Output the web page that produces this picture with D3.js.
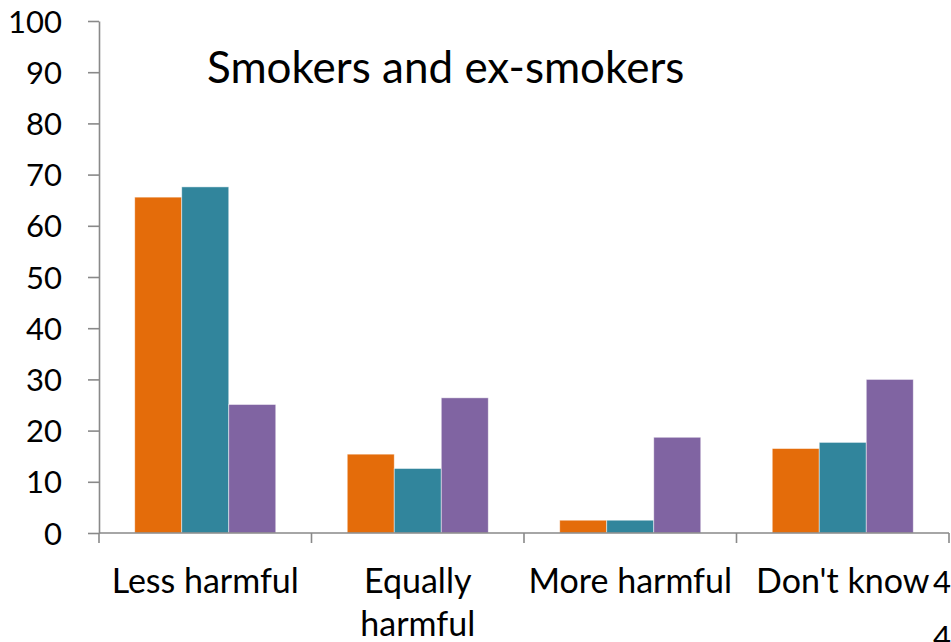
<!DOCTYPE html>
<html>
<head>
<meta charset="utf-8">
<script src="https://cdn.jsdelivr.net/npm/d3@7/dist/d3.min.js"></script>
<style>
  html, body { margin: 0; padding: 0; background: #fff; }
  svg { display: block; }
  text { font-family: Lato, "Open Sans", sans-serif; fill: #000; }
</style>
</head>
<body>
<svg id="chart" width="951" height="642"></svg>
<script>
// Survey responses (%) by perceived harm category
const categories = ["Less harmful", "Equally harmful", "More harmful", "Don't know"];
const seriesNames = ["Series A", "Series B", "Series C"];
const seriesA = [65.6, 15.4, 2.5, 16.5];
const seriesB = [67.6, 12.6, 2.5, 17.7];
const seriesC = [25.1, 26.4, 18.7, 30.0];
const yTicks = [0, 10, 20, 30, 40, 50, 60, 70, 80, 90, 100];
const colors = ["#E46C0A", "#31859C", "#8064A2"];

const svg = d3.select("#chart");
const margin = { left: 99, right: 2, top: 21, bottom: 109 };
const width = 951, height = 642;
const x0 = margin.left, x1 = width - margin.right;
const yBottom = height - margin.bottom;

const x = d3.scaleBand().domain(categories).range([x0, x1]).paddingInner(0).paddingOuter(0);
const xs = d3.scaleBand().domain(seriesNames).range([0, x.bandwidth()]).paddingInner(0).paddingOuter(0.76);
const y = d3.scaleLinear().domain([0, 100]).range([yBottom, margin.top]);

const series = [seriesA, seriesB, seriesC];

// bars
const g = svg.append("g");
categories.forEach((cat, ci) => {
  seriesNames.forEach((s, si) => {
    const v = series[si][ci];
    g.append("rect")
      .attr("x", x(cat) + xs(s))
      .attr("y", y(v))
      .attr("width", xs.bandwidth())
      .attr("height", y(0) - y(v))
      .attr("fill", colors[si])
      .attr("stroke", "rgba(255,255,255,0.6)")
      .attr("stroke-width", 0.8);
  });
});

const axisColor = "#898989";

// y axis
const yAxis = svg.append("g")
  .attr("transform", `translate(${x0},0)`)
  .call(d3.axisLeft(y).tickValues(yTicks).tickSize(11).tickPadding(12).tickSizeOuter(0));
yAxis.select(".domain").attr("stroke", axisColor).attr("stroke-width", 1.6);
yAxis.selectAll(".tick line").attr("stroke", axisColor).attr("stroke-width", 1.6);
yAxis.selectAll(".tick text")
  .attr("font-size", 31)
  .attr("x", -37)
  .attr("dy", "0.36em")
  .style("font-family", "Lato, sans-serif")
  .attr("fill", "#000");

// x axis with ticks at category boundaries
const xAxisG = svg.append("g");
xAxisG.append("line")
  .attr("x1", x0).attr("x2", x1)
  .attr("y1", yBottom).attr("y2", yBottom)
  .attr("stroke", axisColor).attr("stroke-width", 1.6);
const boundaries = categories.map(c => x(c)).concat([x(categories[categories.length - 1]) + x.bandwidth()]);
xAxisG.selectAll("line.xt").data(boundaries).enter().append("line")
  .attr("class", "xt")
  .attr("x1", d => d).attr("x2", d => d)
  .attr("y1", yBottom).attr("y2", yBottom + 10)
  .attr("stroke", axisColor).attr("stroke-width", 1.6);

// category labels (wrapped where the layout wraps)
const labelLines = {
  "Less harmful": ["Less harmful"],
  "Equally harmful": ["Equally", "harmful"],
  "More harmful": ["More harmful"],
  "Don't know": ["Don't know"]
};
categories.forEach(cat => {
  const cx = x(cat) + x.bandwidth() / 2;
  const t = svg.append("text")
    .attr("text-anchor", "middle")
    .attr("font-size", 34);
  labelLines[cat].forEach((ln, i) => {
    t.append("tspan").attr("x", cx).attr("y", 593 + i * 43).text(ln);
  });
});

// slide number
svg.append("text").attr("x", 933).attr("y", 593).attr("font-size", 31).text("4");
svg.append("text").attr("x", 933).attr("y", 648).attr("font-size", 31).text("4");

// title
svg.append("text")
  .attr("x", 207).attr("y", 83)
  .attr("font-size", 44)
  .text("Smokers and ex-smokers");
</script>
</body>
</html>
